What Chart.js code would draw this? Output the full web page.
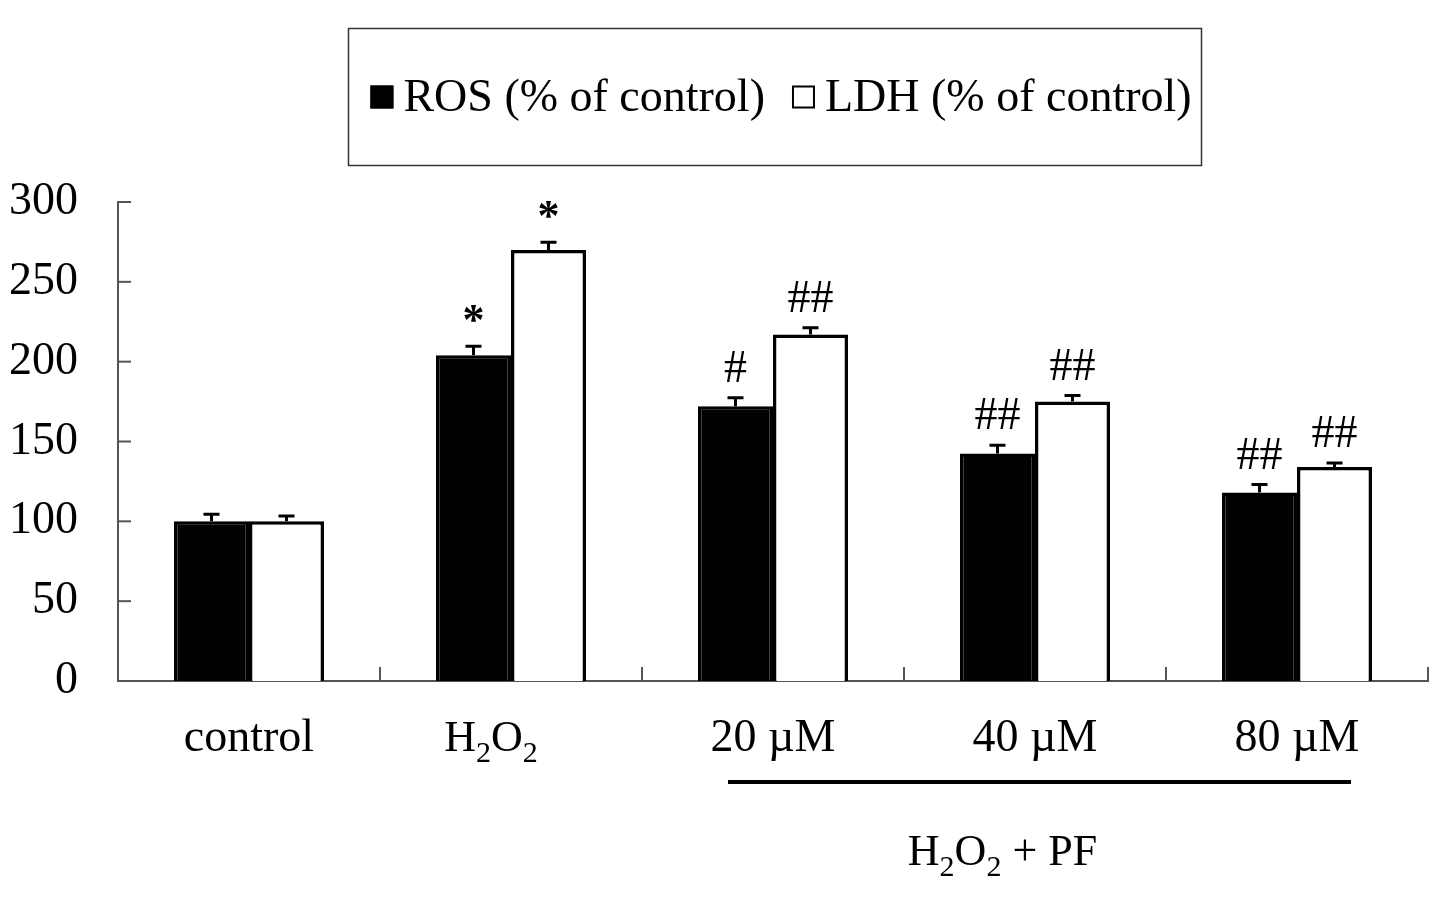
<!DOCTYPE html>
<html>
<head>
<meta charset="utf-8">
<script src="https://cdn.jsdelivr.net/npm/chart.js@4"></script>
<style>
  body { margin: 0; background: #fff; }
  #wrap { width: 1441px; height: 904px; position: relative; }
</style>
</head>
<body>
<div id="wrap"><canvas id="chart"></canvas></div>
<script>
const categories = ['control', 'H2O2', '20 µM', '40 µM', '80 µM'];
const rosValues = [100, 204, 172, 142.5, 118];
const ldhValues = [100, 270, 217, 175, 134];
const rosErrors = [4.4, 5.6, 5.4, 5.2, 5];
const ldhErrors = [3.4, 4.8, 4.2, 3.8, 2.5];
const rosMarks = ['', '*', '#', '##', '##'];
const ldhMarks = ['', '*', '##', '##', '##'];
const yTicks = [0, 50, 100, 150, 200, 250, 300];
const groupLabel = 'H2O2 + PF';

const SERIF = "'Liberation Serif', 'Times New Roman', serif";
const AXIS = '#555';

// text with chemical subscripts: a digit right after a letter goes down
function drawChem(ctx, text, cx, baseline, size) {
  const parts = [];
  let prevSub = false;
  for (let i = 0; i < text.length; i++) {
    const c = text[i], p = text[i - 1] || '';
    const sub = /\d/.test(c) && (/[A-Za-z]/.test(p) || (prevSub && /\d/.test(p)));
    parts.push({ c, sub });
    prevSub = sub;
  }
  const subSize = Math.round(size * 0.68);
  let w = 0;
  parts.forEach(p => {
    ctx.font = (p.sub ? subSize : size) + 'px ' + SERIF;
    p.w = ctx.measureText(p.c).width;
    w += p.w;
  });
  let x = cx - w / 2;
  ctx.textAlign = 'left';
  ctx.textBaseline = 'alphabetic';
  parts.forEach(p => {
    ctx.font = (p.sub ? subSize : size) + 'px ' + SERIF;
    ctx.fillText(p.c, x, baseline + (p.sub ? size * 0.26 : 0));
    x += p.w;
  });
}

const decor = {
  id: 'decor',
  afterDatasetsDraw(chart) {
    const { ctx, chartArea: a } = chart;
    const xs = chart.scales.x, ys = chart.scales.y;
    ctx.save();
    // inward tick marks
    ctx.strokeStyle = AXIS;
    ctx.lineWidth = 2;
    ys.ticks.forEach(t => {
      const y = ys.getPixelForValue(t.value);
      ctx.beginPath(); ctx.moveTo(a.left, y); ctx.lineTo(a.left + 13, y); ctx.stroke();
    });
    for (let i = 0; i < categories.length; i++) {
      const x = xs.getPixelForValue(i + 0.5);
      ctx.beginPath(); ctx.moveTo(x, a.bottom); ctx.lineTo(x, a.bottom - 14); ctx.stroke();
    }
    // error bars and significance marks
    const errs = [rosErrors, ldhErrors];
    const marks = [rosMarks, ldhMarks];
    chart.data.datasets.forEach((ds, di) => {
      chart.getDatasetMeta(di).data.forEach((bar, i) => {
        const top = ys.getPixelForValue(ds.data[i] + errs[di][i]);
        ctx.strokeStyle = '#000';
        ctx.lineWidth = 3;
        ctx.beginPath();
        ctx.moveTo(bar.x, bar.y); ctx.lineTo(bar.x, top);
        ctx.moveTo(bar.x - 8, top); ctx.lineTo(bar.x + 8, top);
        ctx.stroke();
        const m = marks[di][i];
        if (m) {
          ctx.fillStyle = '#000';
          ctx.textAlign = 'center';
          ctx.textBaseline = 'alphabetic';
          if (m === '*') {
            ctx.font = 'bold 44px ' + SERIF;
            ctx.fillText(m, bar.x, top - 12);
          } else {
            ctx.font = '46px ' + SERIF;
            ctx.fillText(m, bar.x, top - 16);
          }
        }
      });
    });
    // category labels
    ctx.fillStyle = '#000';
    categories.forEach((c, i) => {
      const cx = xs.getPixelForValue(i) - (i === 1 ? 20 : 0);
      drawChem(ctx, c, cx, 751, i === 1 ? 44 : 46);
    });
    // group bracket under the PF doses
    const x1 = xs.getPixelForValue(2) - 45, x2 = xs.getPixelForValue(4) + 54;
    ctx.strokeStyle = '#000';
    ctx.lineWidth = 4;
    ctx.beginPath(); ctx.moveTo(x1, 782); ctx.lineTo(x2, 782); ctx.stroke();
    drawChem(ctx, groupLabel, (x1 + x2) / 2 - 37, 865, 44);
    ctx.restore();
  },
  afterDraw(chart) {
    const { ctx } = chart;
    ctx.save();
    ctx.strokeStyle = '#333';
    ctx.lineWidth = 1.5;
    ctx.strokeRect(348.5, 28.5, 853, 137);
    ctx.font = '46px ' + SERIF;
    ctx.textBaseline = 'middle';
    ctx.textAlign = 'left';
    const sq = 23, gap = 10, between = 27;
    const items = chart.data.datasets.map(d => ({ d, w: ctx.measureText(d.label).width }));
    const total = items.reduce((s, it) => s + sq + gap + it.w, 0) + between * (items.length - 1);
    let x = 781 - total / 2;
    const cy = 97;
    items.forEach(it => {
      ctx.fillStyle = it.d.backgroundColor;
      ctx.fillRect(x, cy - sq / 2, sq, sq);
      ctx.strokeStyle = '#000';
      ctx.lineWidth = 2;
      ctx.strokeRect(x + 1, cy - sq / 2 + 1, sq - 2, sq - 2);
      ctx.fillStyle = '#000';
      ctx.fillText(it.d.label, x + sq + gap, cy + 2);
      x += sq + gap + it.w + between;
    });
    ctx.restore();
  }
};

new Chart(document.getElementById('chart'), {
  type: 'bar',
  data: {
    labels: categories,
    datasets: [
      { label: 'ROS (% of control)', data: rosValues, backgroundColor: '#000', borderColor: '#000', borderWidth: 3.5 },
      { label: 'LDH (% of control)', data: ldhValues, backgroundColor: '#fff', borderColor: '#000', borderWidth: 3.5 }
    ]
  },
  options: {
    responsive: true,
    maintainAspectRatio: false,
    animation: false,
    layout: { padding: { left: 0, right: 13, top: 202, bottom: 0 } },
    datasets: { bar: { categoryPercentage: 0.5725, barPercentage: 1 } },
    plugins: { legend: { display: false }, tooltip: { enabled: false } },
    scales: {
      x: {
        grid: { display: false, drawTicks: false },
        border: { display: true, color: AXIS, width: 2 },
        ticks: { display: false },
        afterFit(s) { s.height = 223; }
      },
      y: {
        min: 0, max: 300,
        afterBuildTicks(s) { s.ticks = yTicks.map(v => ({ value: v })); },
        grid: { display: false, drawTicks: false },
        border: { display: true, color: AXIS, width: 2 },
        ticks: { padding: 40, color: '#000', font: { family: SERIF, size: 46 } },
        afterFit(s) { s.width = 118; }
      }
    }
  },
  plugins: [decor]
});
</script>
</body>
</html>
